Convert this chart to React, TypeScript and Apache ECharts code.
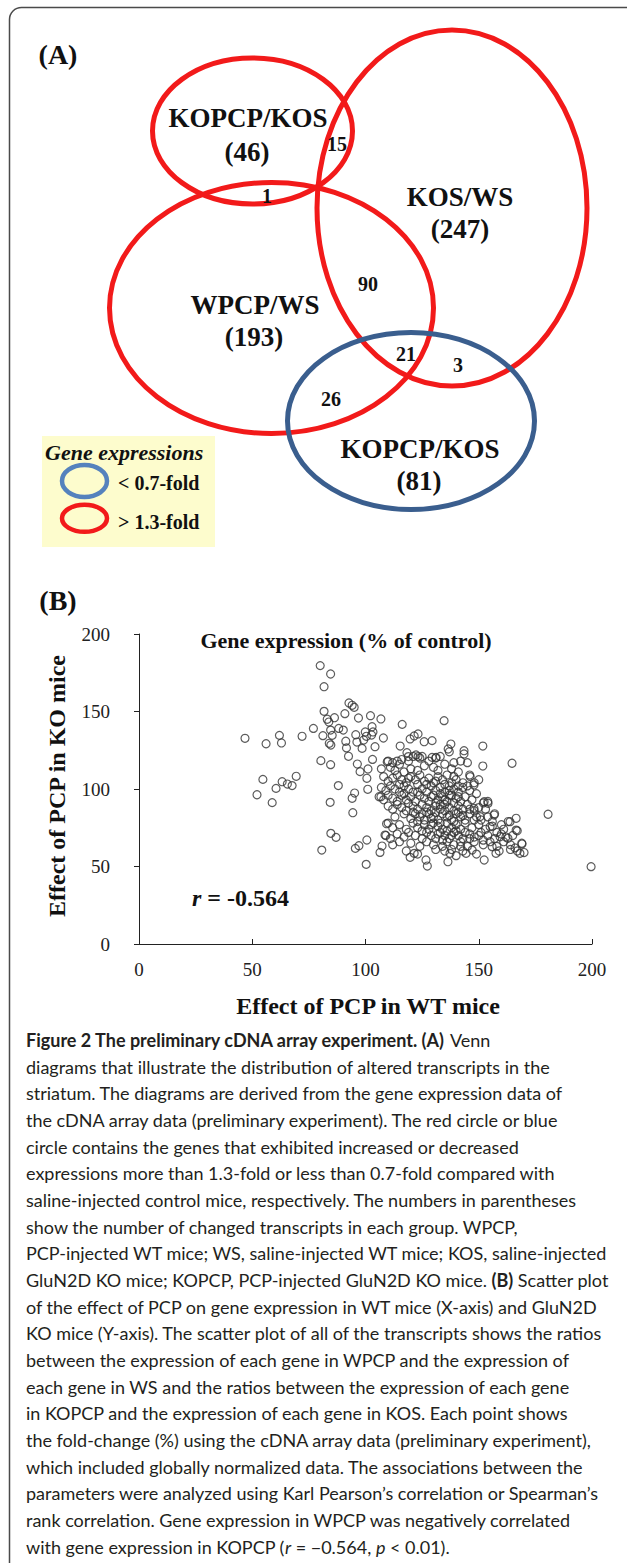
import React, { useEffect, useRef } from "react";
import * as echarts from "echarts";

// ---------- DATA ----------
const xTickValues = [0, 50, 100, 150, 200];
const yTickValues = [0, 50, 100, 150, 200];

const chartTitle = "Gene expression (% of control)";
const xAxisTitle = "Effect of PCP in WT mice";
const yAxisTitle = "Effect of PCP in KO mice";
const correlationValue = "-0.564";

// Venn diagram content
const vennSetNames = ["KOPCP/KOS", "KOS/WS", "WPCP/WS", "KOPCP/KOS"];
const vennSetTotals = [46, 247, 193, 81];
const vennOverlapCounts = [15, 1, 90, 21, 3, 26];
const legendTitle = "Gene expressions";
const legendItems = ["< 0.7-fold", "> 1.3-fold"];

// scatter: [effect in WT mice (%), effect in KO mice (%)]
const sparsePoints: [number, number][] = [
  [46.8, 132.7], [54.7, 106.2], [52.1, 96.3], [56.1, 129.2], [62, 134.6], [62.9, 129.7],
  [58.8, 91.2], [60.5, 100.4], [63.2, 104.7], [65.5, 103.2], [67.6, 102.2], [69.4, 108.2],
  [72, 134], [77, 139.1], [80, 179.6], [84.6, 174.2], [81.7, 166], [81.7, 150.1],
  [83.1, 145], [83.8, 143.2], [84.6, 138], [81.2, 134.4], [85.3, 134.6], [84, 129.5],
  [84.7, 128.4], [86.3, 146], [88.2, 139.1], [90.2, 138], [90.9, 148.6], [91.3, 130.8],
  [91.6, 126.5], [92.5, 121.1], [92.7, 155.5], [94.1, 154], [95, 152.7], [95.7, 135],
  [96.2, 130.3], [96.4, 116.1], [96.9, 145.8], [80.3, 118.3], [84.6, 115.7], [84.4, 91.4],
  [88, 102.2], [84.7, 71.4], [87, 68.8], [80.7, 60.6], [94.1, 94], [95.2, 97.4],
  [94.4, 84.7], [95.5, 61.7], [97.1, 63.4], [97.6, 111.2], [98.5, 126.2], [99.2, 131.6],
  [99.9, 136.8], [100.4, 134], [100.6, 106.9], [101, 99.8], [101.1, 112.9], [100.6, 67.1],
  [100.3, 51.4], [102.2, 147.3], [102.9, 140.2], [103.3, 136.8], [102.7, 134.8], [103.1, 119.1],
  [104.2, 127.3], [106.8, 145.2], [107.9, 132.9], [106.8, 95], [106.4, 59.1], [107.3, 63.2],
  [109.3, 77.6], [108.6, 70.3], [109.6, 117.6],
  [180.6, 83.7], [199.6, 49.9], [164.7, 116.6], [151.8, 127.7], [151.8, 114.8], [143.5, 124.7],
  [143.5, 122.6], [137.7, 129], [136.5, 125.8], [134.7, 144.1], [129.4, 131.2], [129.4, 120.4],
  [131.2, 120.4], [123.2, 135.5], [121.5, 134.2], [116.2, 141.7], [119.7, 132.3], [115.3, 127.7],
  [125.9, 130.5], [118.3, 123.4], [118.9, 120.9], [122.3, 122], [123.2, 120.9],
  [168.2, 58.5], [169.1, 64.5], [166.5, 73.5], [166.5, 81.1], [163.8, 78.9], [162.9, 68.2],
  [159.4, 69.2], [157.6, 58.5], [156.8, 83.2], [154.1, 90.8], [152.4, 91.8], [152.4, 54.2],
  [147.1, 60.6], [144.4, 58.5], [147.9, 87.5], [147.9, 102.6], [146.2, 108], [155, 75.7],
  [155.9, 62.8], [137.3, 58.5], [136.4, 53.1], [126.7, 54.2], [127.3, 50.3], [119.7, 55.9],
  [121.5, 58.5], [150.6, 82.2],
];

const densePoints: [number, number][] = [
  [110, 118], [112, 117], [114, 118], [116, 119], [119, 118], [121, 121], [124, 120], [125, 121],
  [128, 118], [131, 120], [133, 121], [137, 124], [139, 117], [142, 118], [145, 117],
  [107, 113], [111, 114], [113, 112], [115, 116], [117, 111], [120, 113], [123, 112], [126, 115],
  [130, 114], [132, 112], [135, 116], [138, 113], [141, 111], [146, 109], [150, 106],
  [108, 108], [110, 105], [112, 107], [114, 109], [116, 106], [118, 104], [120, 108], [122, 106],
  [124, 109], [126, 105], [128, 107], [130, 104], [132, 108], [134, 106], [136, 109], [138, 104],
  [140, 106], [143, 104], [145, 102], [148, 104],
  [107, 101], [109, 99], [111, 102], [113, 100], [115, 98], [117, 102], [119, 100], [121, 98],
  [123, 103], [125, 100], [127, 98], [129, 102], [131, 99], [133, 101], [135, 98], [137, 102],
  [139, 100], [141, 98], [143, 101], [146, 99], [149, 97],
  [106, 95], [108, 93], [110, 96], [112, 94], [114, 92], [116, 96], [118, 93], [120, 95],
  [122, 92], [124, 96], [126, 94], [128, 92], [130, 96], [132, 93], [134, 95], [136, 92],
  [138, 96], [140, 94], [142, 92], [144, 95], [147, 93], [152, 91], [154, 92],
  [110, 89], [112, 87], [114, 90], [116, 88], [118, 86], [121, 89], [123, 87], [125, 90],
  [127, 88], [129, 86], [131, 89], [133, 87], [135, 90], [137, 88], [139, 86], [141, 89],
  [143, 87], [145, 90], [148, 86], [150, 88], [153, 87],
  [113, 82], [117, 84], [120, 81], [122, 84], [124, 82], [126, 80], [128, 84], [130, 82],
  [132, 80], [134, 84], [136, 82], [138, 80], [140, 84], [142, 82], [144, 80], [146, 84],
  [149, 82], [151, 80], [157, 84],
  [110, 78], [112, 75], [115, 77], [118, 74], [121, 78], [123, 75], [126, 77], [128, 74],
  [130, 78], [132, 76], [134, 74], [136, 78], [138, 75], [140, 77], [142, 74], [144, 78],
  [147, 75], [150, 77], [153, 74], [156, 76], [160, 77], [163, 79],
  [109, 70], [111, 68], [114, 71], [117, 69], [119, 72], [122, 70], [125, 68], [127, 72],
  [129, 70], [131, 68], [133, 72], [135, 70], [137, 68], [139, 72], [141, 70], [143, 68],
  [146, 71], [148, 69], [151, 72], [154, 70], [157, 68], [160, 71], [162, 69], [165, 70],
  [167, 73],
  [112, 64], [115, 66], [120, 65], [124, 63], [127, 66], [130, 64], [134, 63], [136, 66],
  [139, 64], [142, 66], [145, 63], [148, 66], [152, 64], [155, 66], [158, 63], [161, 66],
  [164, 64], [166, 62], [169, 65],
  [118, 60], [123, 58], [131, 61], [135, 60], [140, 57], [143, 60], [149, 58], [159, 60],
  [164, 61], [167, 60], [170, 59],
  [129, 95], [131, 91], [133, 97], [135, 93], [137, 99], [139, 91], [141, 95], [127, 85],
  [129, 81], [131, 85], [133, 78], [135, 86], [137, 83], [139, 79], [141, 85], [143, 83],
  [136, 73], [138, 70], [134, 67], [132, 71], [140, 73], [142, 63], [138, 61], [146, 68],
  [144, 72], [150, 70], [152, 67], [148, 80], [146, 87], [125, 73], [123, 79], [121, 85],
  [119, 91], [117, 97], [115, 103], [119, 107], [123, 98], [127, 103], [131, 105], [135, 103],
  [139, 108], [141, 102], [137, 96], [133, 90], [129, 77], [125, 84], [158, 72], [161, 74],
  [156, 79], [154, 82],
];

const captionLines = [
  "{b|Figure 2 The preliminary cDNA array experiment. (A)} Venn",
  "diagrams that illustrate the distribution of altered transcripts in the",
  "striatum. The diagrams are derived from the gene expression data of",
  "the cDNA array data (preliminary experiment). The red circle or blue",
  "circle contains the genes that exhibited increased or decreased",
  "expressions more than 1.3-fold or less than 0.7-fold compared with",
  "saline-injected control mice, respectively. The numbers in parentheses",
  "show the number of changed transcripts in each group. WPCP,",
  "PCP-injected WT mice; WS, saline-injected WT mice; KOS, saline-injected",
  "GluN2D KO mice; KOPCP, PCP-injected GluN2D KO mice. {b|(B)} Scatter plot",
  "of the effect of PCP on gene expression in WT mice (X-axis) and GluN2D",
  "KO mice (Y-axis). The scatter plot of all of the transcripts shows the ratios",
  "between the expression of each gene in WPCP and the expression of",
  "each gene in WS and the ratios between the expression of each gene",
  "in KOPCP and the expression of each gene in KOS. Each point shows",
  "the fold-change (%) using the cDNA array data (preliminary experiment),",
  "which included globally normalized data. The associations between the",
  "parameters were analyzed using Karl Pearson\u2019s correlation or Spearman\u2019s",
  "rank correlation. Gene expression in WPCP was negatively correlated",
  "with gene expression in KOPCP ({i|r} = \u22120.564, {i|p} < 0.01).",
];

// ---------- COMPONENT ----------
const SERIF = '"Liberation Serif", "Times New Roman", serif';
const SANS = 'Lato, "Open Sans", sans-serif';
const CAPTION_SIZE = 18;

export default function App() {
  const ref = useRef<HTMLDivElement>(null);

  useEffect(() => {
    if (!ref.current) return;
    const chart = echarts.init(ref.current, null, { renderer: "svg" });

    const txt = (
      text: string,
      x: number,
      y: number,
      size: number,
      o: any = {}
    ) => ({
      type: "text",
      x,
      y,
      rotation: o.rotation || 0,
      silent: true,
      z: 10,
      style: {
        text,
        fontFamily: o.family || SERIF,
        fontSize: size,
        fontWeight: o.weight || "bold",
        fontStyle: o.italic ? "italic" : "normal",
        fill: o.fill || "#111",
        align: o.align || "center",
        verticalAlign: o.va || "middle",
        rich: o.rich,
      },
    });

    const ell = (cx: number, cy: number, rx: number, ry: number, stroke: string, lw: number) => ({
      type: "ellipse",
      silent: true,
      z: 5,
      shape: { cx, cy, rx, ry },
      style: { fill: "none", stroke, lineWidth: lw },
    });

    const RED = "#f21a1a";
    const BLUE = "#3a5e8e";
    const LBLUE = "#5582bd";

    const graphics: any[] = [
      // frame
      {
        type: "rect",
        silent: true,
        z: 1,
        shape: { x: 9.5, y: 7.5, width: 650, height: 1620, r: 12 },
        style: { fill: "none", stroke: "#4a4a4a", lineWidth: 1.5 },
      },
      // panel labels
      txt("(A)", 58, 54, 28),
      txt("(B)", 58, 600, 28),
      // legend box
      {
        type: "rect",
        silent: true,
        z: 2,
        shape: { x: 42, y: 436, width: 173, height: 111 },
        style: { fill: "#fdfccd", stroke: "none" },
      },
      txt(legendTitle, 45, 452, 22, { italic: true, align: "left" }),
      ell(84.5, 481, 22.5, 16, LBLUE, 4.5),
      txt(legendItems[0], 118, 483, 20, { align: "left" }),
      ell(84.5, 518.3, 22.5, 13.5, RED, 4.5),
      txt(legendItems[1], 118, 522, 20, { align: "left" }),
      // venn ellipses
      ell(252.5, 131, 100, 73, RED, 5),
      ell(452, 208, 135, 178, RED, 5),
      ell(271.5, 308, 162, 125.5, RED, 5),
      ell(411, 421, 123.5, 88.5, BLUE, 5),
      // venn labels
      txt(vennSetNames[0], 248, 118, 27),
      txt("(" + vennSetTotals[0] + ")", 247, 152, 27),
      txt(vennSetNames[1], 460, 197, 27),
      txt("(" + vennSetTotals[1] + ")", 460, 229, 27),
      txt(vennSetNames[2], 255, 305, 27),
      txt("(" + vennSetTotals[2] + ")", 254, 337, 27),
      txt(vennSetNames[3], 420, 449, 27),
      txt("(" + vennSetTotals[3] + ")", 419, 481, 27),
      txt(String(vennOverlapCounts[0]), 337, 144, 20),
      txt(String(vennOverlapCounts[1]), 267, 196, 20),
      txt(String(vennOverlapCounts[2]), 368, 284, 20),
      txt(String(vennOverlapCounts[3]), 406, 354, 20),
      txt(String(vennOverlapCounts[4]), 458, 365, 20),
      txt(String(vennOverlapCounts[5]), 331, 399, 20),
      // scatter titles
      txt(chartTitle, 346, 640, 22),
      txt(xAxisTitle, 368, 1006, 24),
      txt(yAxisTitle, 57, 786, 24, { rotation: Math.PI / 2 }),
      txt("{i|r}{n| = " + correlationValue + "}", 192, 898, 24, {
        align: "left",
        rich: {
          i: { fontFamily: SERIF, fontSize: 24, fontWeight: "bold", fontStyle: "italic", fill: "#111" },
          n: { fontFamily: SERIF, fontSize: 24, fontWeight: "bold", fill: "#111" },
        },
      }),
    ];

    captionLines.forEach((line, i) => {
      graphics.push(
        txt(line, 26, 1040 + i * 26.67, CAPTION_SIZE, {
          family: SANS,
          weight: "normal",
          align: "left",
          fill: "#231f20",
          rich: {
            b: { fontFamily: SANS, fontSize: CAPTION_SIZE, fontWeight: "bold", fill: "#231f20" },
            i: { fontFamily: SANS, fontSize: CAPTION_SIZE, fontStyle: "italic", fill: "#231f20" },
          },
        })
      );
    });

    const axisCommon = {
      type: "value",
      min: 0,
      max: 200,
      interval: 50,
      splitLine: { show: false },
      axisLine: { show: true, lineStyle: { color: "#222", width: 1 } },
    };

    chart.setOption({
      animation: false,
      backgroundColor: "#fff",
      grid: { left: 139, top: 634, width: 453, height: 310, containLabel: false },
      xAxis: {
        ...axisCommon,
        axisTick: { show: true, inside: true, length: 5, lineStyle: { color: "#222" } },
        axisLabel: {
          fontFamily: SERIF,
          fontSize: 19,
          color: "#222",
          margin: 16,
          formatter: (v: number) => (xTickValues.includes(v) ? String(v) : ""),
        },
      },
      yAxis: {
        ...axisCommon,
        axisTick: { show: true, inside: false, length: 5, lineStyle: { color: "#222" } },
        axisLabel: {
          fontFamily: SERIF,
          fontSize: 19,
          color: "#222",
          margin: 29,
          formatter: (v: number) => (yTickValues.includes(v) ? String(v) : ""),
        },
      },
      series: [
        {
          type: "scatter",
          silent: true,
          symbol: "circle",
          symbolSize: 8,
          data: [...sparsePoints, ...densePoints],
          itemStyle: { color: "rgba(255,255,255,0)", borderColor: "#333", borderWidth: 1.2 },
        },
      ],
      graphic: graphics,
    });

    return () => chart.dispose();
  }, []);

  return (
    <div
      ref={ref}
      style={{ position: "absolute", left: 0, top: 0, width: 627, height: 1563, background: "#fff" }}
    />
  );
}
